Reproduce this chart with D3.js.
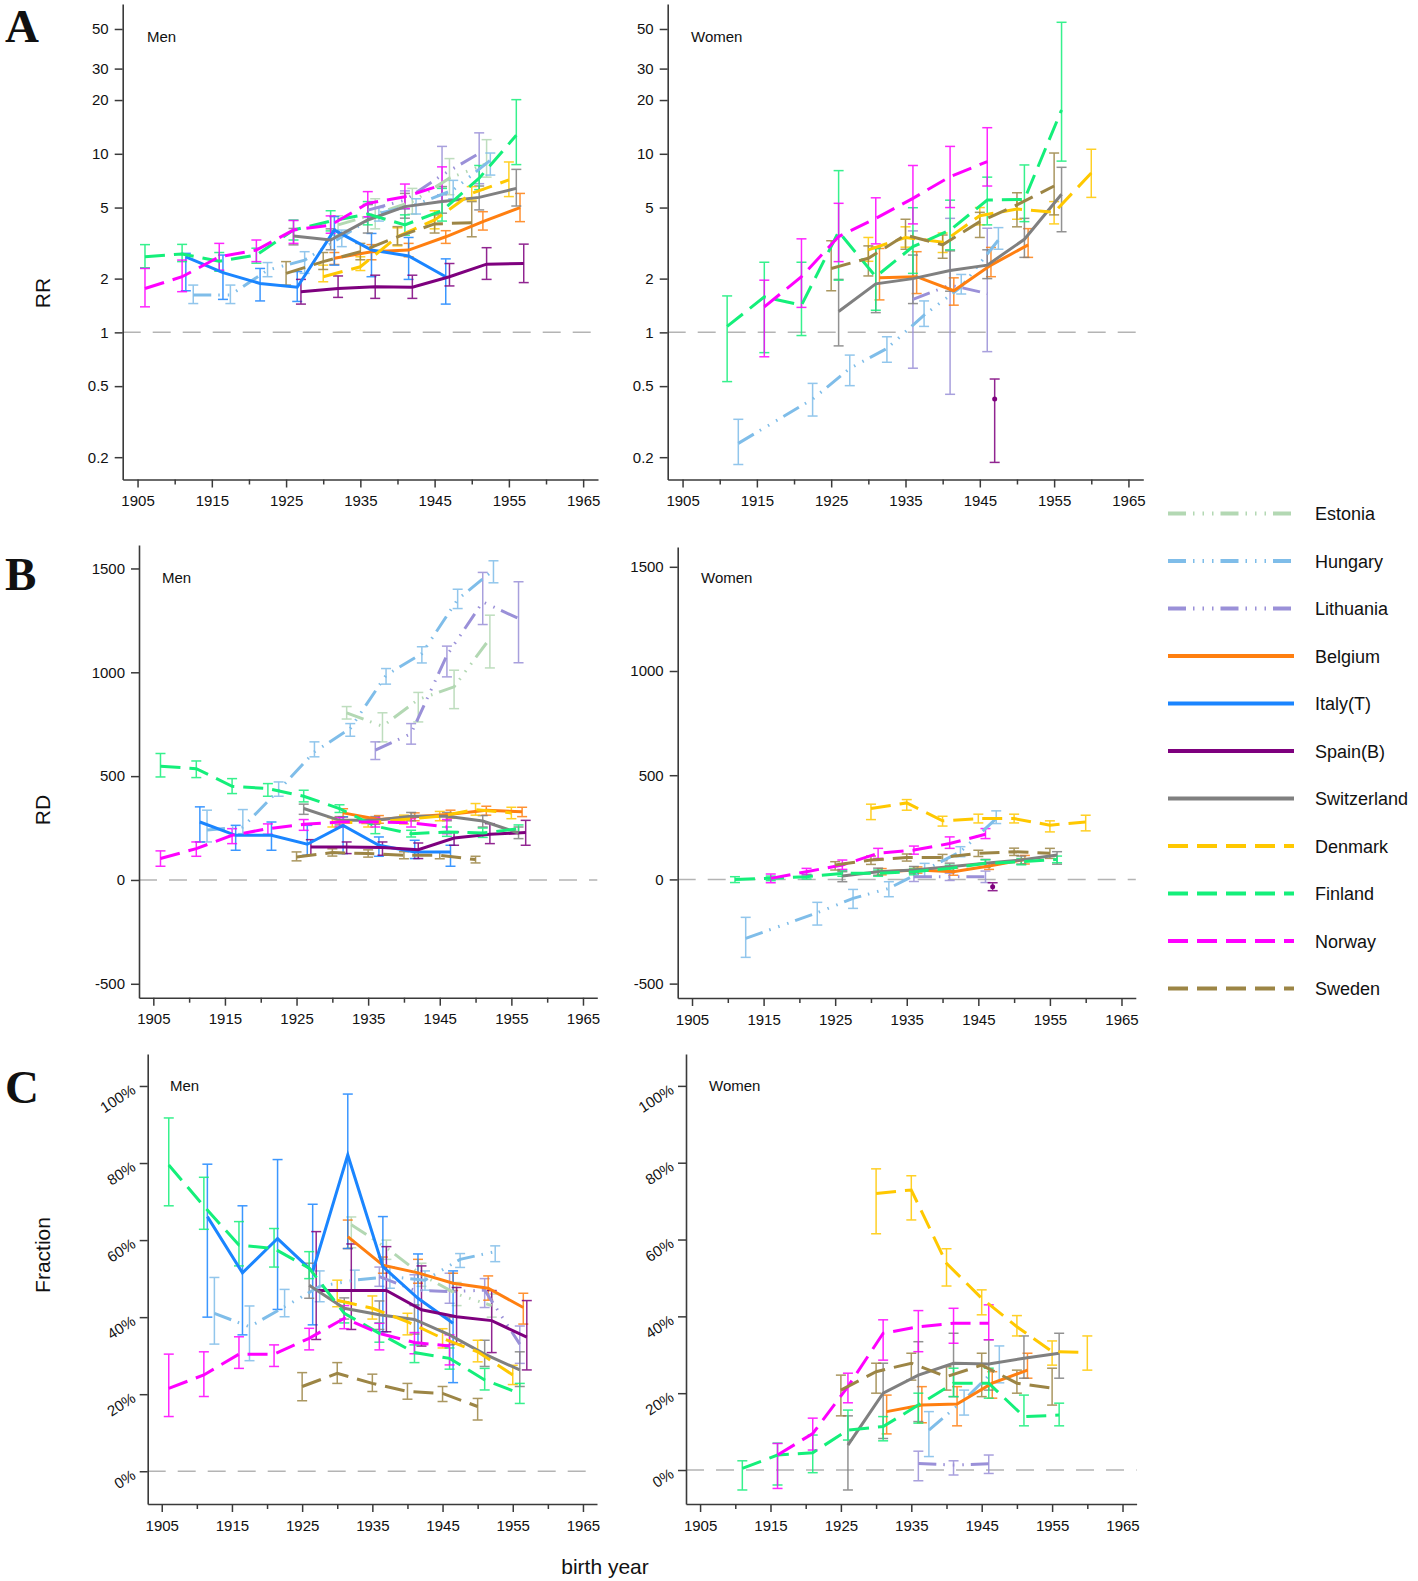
<!DOCTYPE html>
<html><head><meta charset="utf-8">
<script src="https://cdn.jsdelivr.net/npm/d3@7"></script>
<style>
body{margin:0;background:#fff}
text{font-family:"Liberation Sans",Arial,Helvetica,sans-serif;fill:#111}
</style>
</head><body>
<svg id="c" width="1418" height="1581"></svg>
<script>
// ---------------- data ----------------
const countries = ["Estonia","Hungary","Lithuania","Belgium","Italy(T)","Spain(B)","Switzerland","Denmark","Finland","Norway","Sweden"];
const keys      = ["Estonia","Hungary","Lithuania","Belgium","Italy","Spain","Switzerland","Denmark","Finland","Norway","Sweden"];
const colors    = ["#b3d8b3","#7fbde9","#9a90d8","#ff7f10","#1a85ff","#7e007e","#808080","#ffc800","#14ef7a","#ff00ff","#9c8545"];
const lineKinds = ["dashdot","dashdot","dashdot","solid","solid","solid","solid","dashed","dashed","dashed","dashed"];
const yearTicks = [1905,1910,1915,1920,1925,1930,1935,1940,1945,1950,1955,1960,1965];
const rrTicks = [0.2,0.5,1,2,5,10,20,30,50];
const rdTicks = [-500,0,500,1000,1500];
const fracTicks = [0,20,40,60,80,100];

// rows: [country, birth year, estimate, lower, upper]
const rrMen = [
["Finland",1906,2.65,2.3,3.1],["Finland",1911,2.75,2.49,3.11],["Finland",1916,2.5,2.2,2.8],["Finland",1921,2.71,2.44,2.96],["Finland",1926,3.74,3.29,4.26],["Finland",1931,4.2,3.7,4.8],["Finland",1936,4.6,4.0,5.4],["Finland",1941,4.0,3.5,4.55],["Finland",1946,4.8,4.2,6.4],["Finland",1951,7.3,6.3,8.6],["Finland",1956,12.7,8.7,20.1],
["Norway",1906,1.76,1.39,2.28],["Norway",1911,2.05,1.69,2.54],["Norway",1916,2.65,2.23,3.15],["Norway",1921,2.89,2.49,3.29],["Norway",1926,3.74,3.15,4.23],["Norway",1931,3.99,3.59,4.49],["Norway",1936,5.28,4.44,6.14],["Norway",1941,5.75,4.95,6.77],["Norway",1946,6.69,5.4,8.45],
["Italy",1911.5,2.65,1.71,2.77],["Italy",1916.5,2.16,1.53,2.71],["Italy",1921.5,1.88,1.5,2.28],["Italy",1926.5,1.79,1.49,2.19],["Italy",1931.5,3.74,2.38,4.45],["Italy",1936.5,2.89,2.05,3.58],["Italy",1941.5,2.68,1.98,3.4],["Italy",1946.5,2.05,1.44,2.58],
["Spain",1927,1.69,1.44,1.98],["Spain",1932,1.76,1.57,2.07],["Spain",1937,1.8,1.55,2.09],["Spain",1942,1.79,1.55,2.09],["Spain",1947,2.05,1.82,2.43],["Spain",1952,2.41,1.98,2.98],["Spain",1957,2.43,1.9,3.12],
["Switzerland",1926,3.46,3.09,3.82],["Switzerland",1931,3.29,2.9,3.8],["Switzerland",1936,4.26,3.6,5.2],["Switzerland",1941,5.06,4.36,6.0],["Switzerland",1946,5.4,4.65,6.55],["Switzerland",1951,5.7,4.85,6.6],["Switzerland",1956,6.4,5.1,8.18],
["Belgium",1931.5,2.6,2.4,2.8],["Belgium",1936.5,2.83,2.55,3.1],["Belgium",1941.5,2.89,2.65,3.15],["Belgium",1946.5,3.43,3.15,3.71],["Belgium",1951.5,4.17,3.74,4.74],["Belgium",1956.5,4.99,4.17,6.0],
["Denmark",1930,2.05,1.92,2.38],["Denmark",1935,2.33,2.22,2.65],["Denmark",1940,3.43,3.05,3.85],["Denmark",1945,4.26,3.8,4.8],["Denmark",1950,6.0,5.5,6.55],["Denmark",1955,7.14,5.76,9.0],
["Sweden",1925,2.14,1.84,2.49],["Sweden",1930,2.49,2.25,2.8],["Sweden",1935,2.83,2.55,3.15],["Sweden",1940,3.43,3.09,3.91],["Sweden",1945,4.05,3.6,4.55],["Sweden",1950,4.11,3.43,5.4],
["Hungary",1912.5,1.62,1.45,1.84],["Hungary",1917.5,1.62,1.45,1.84],["Hungary",1922.5,2.23,2.05,2.46],["Hungary",1927.5,2.54,2.14,2.83],["Hungary",1932.5,3.43,3.02,3.74],["Hungary",1937.5,4.64,4.2,5.0],["Hungary",1942.5,5.2,4.6,5.6],["Hungary",1947.5,6.27,5.6,7.1],["Hungary",1952.5,9.2,7.6,10.1],
["Estonia",1932,4.0,3.5,4.5],["Estonia",1937,4.6,3.8,5.6],["Estonia",1942,5.4,4.6,6.4],["Estonia",1947,7.3,5.9,9.4],["Estonia",1952,8.8,7.4,12.0],
["Lithuania",1936,4.84,4.4,5.2],["Lithuania",1941,5.5,4.9,6.2],["Lithuania",1946,7.6,5.9,11.0],["Lithuania",1951,10.05,6.8,13.1]
];
const rrWomen = [
["Finland",1911,1.08,0.53,1.6],["Finland",1916,1.58,0.77,2.47],["Finland",1921,1.42,0.96,2.47],["Finland",1926,3.66,1.96,8.05],["Finland",1931,2.05,1.33,2.95],["Finland",1936,3.02,2.14,4.99],["Finland",1941,3.74,2.9,5.5],["Finland",1946,5.51,4.0,7.4],["Finland",1951,5.55,4.17,8.66],["Finland",1956,17.6,9.1,54.5],
["Norway",1916,1.39,0.73,1.96],["Norway",1921,2.05,1.38,3.34],["Norway",1926,3.44,2.49,5.28],["Norway",1931,4.35,3.13,5.67],["Norway",1936,5.63,4.05,8.6],["Norway",1941,7.45,5.0,11.0],["Norway",1946,9.04,6.6,14.0],
["Sweden",1925,2.28,1.71,3.26],["Sweden",1930,2.6,2.07,3.05],["Sweden",1935,3.51,2.92,4.3],["Sweden",1940,3.09,2.6,3.51],["Sweden",1945,4.17,3.4,4.7],["Sweden",1950,5.17,3.9,6.05],["Sweden",1955,6.6,4.55,10.1],
["Denmark",1930,2.9,2.5,3.4],["Denmark",1935,3.4,3.0,3.9],["Denmark",1940,3.2,2.8,3.6],["Denmark",1945,4.5,4.0,5.0],["Denmark",1950,4.9,4.3,5.5],["Denmark",1955,4.7,4.05,5.4],["Denmark",1960,7.8,5.7,10.6],
["Switzerland",1926,1.31,0.84,1.98],["Switzerland",1931,1.87,1.29,3.0],["Switzerland",1936,2.0,1.45,2.71],["Switzerland",1941,2.22,1.7,2.86],["Switzerland",1946,2.38,2.0,2.9],["Switzerland",1951,3.32,2.63,4.35],["Switzerland",1956,5.93,3.66,8.4],
["Belgium",1931.5,2.02,1.52,2.95],["Belgium",1936.5,2.05,1.65,2.83],["Belgium",1941.5,1.71,1.42,2.02],["Belgium",1946.5,2.38,2.05,2.99],["Belgium",1951.5,3.09,2.63,3.81],
["Hungary",1912.5,0.239,0.182,0.326],["Hungary",1922.5,0.423,0.34,0.518],["Hungary",1927.5,0.628,0.503,0.746],["Hungary",1932.5,0.813,0.68,0.945],["Hungary",1937.5,1.25,1.08,1.5],["Hungary",1942.5,1.8,1.64,2.11],["Hungary",1947.5,3.29,2.92,3.86],
["Lithuania",1936,1.53,0.63,3.7],["Lithuania",1941,1.84,0.45,4.35],["Lithuania",1946,1.65,0.78,3.83],
["Spain",1947,0.423,0.187,0.548]
];
const rdMen = [
["Finland",1906,548,496,609],["Finland",1911,536,493,573],["Finland",1916,451,416,488],["Finland",1921,440,403,464],["Finland",1926,403,376,432],["Finland",1931,344,325,362],["Finland",1936,259,223,279],["Finland",1941,223,207,239],["Finland",1946,231,210,255],["Finland",1951,226,205,250],["Finland",1956,247,225,265],
["Norway",1906,103,66,140],["Norway",1911,151,114,183],["Norway",1916,215,175,247],["Norway",1921,247,220,270],["Norway",1926,268,239,291],["Norway",1931,279,255,300],["Norway",1936,279,255,300],["Norway",1941,275,255,295],["Norway",1946,255,223,291],
["Italy",1911.5,279,183,352],["Italy",1916.5,215,143,263],["Italy",1921.5,215,143,279],["Italy",1926.5,172,119,263],["Italy",1931.5,263,127,304],["Italy",1936.5,167,114,207],["Italy",1941.5,135,103,191],["Italy",1946.5,135,66,167],
["Spain",1927,159,119,194],["Spain",1932,159,127,183],["Spain",1937,156,119,183],["Spain",1942,146,103,178],["Spain",1947,202,167,231],["Spain",1952,220,175,271],["Spain",1957,228,167,287],
["Switzerland",1926,344,316,365],["Switzerland",1931,287,265,305],["Switzerland",1936,287,268,305],["Switzerland",1941,307,285,325],["Switzerland",1946,307,285,325],["Switzerland",1951,284,255,310],["Switzerland",1956,226,199,255],
["Belgium",1931.5,323,303,343],["Belgium",1936.5,291,273,310],["Belgium",1941.5,304,285,323],["Belgium",1946.5,316,298,336],["Belgium",1951.5,336,312,355],["Belgium",1956.5,328,305,350],
["Denmark",1930,279,255,300],["Denmark",1935,275,255,295],["Denmark",1940,291,270,312],["Denmark",1945,307,285,330],["Denmark",1950,339,312,368],["Denmark",1955,323,295,350],
["Sweden",1925,111,92,135],["Sweden",1930,132,115,150],["Sweden",1935,127,110,145],["Sweden",1940,119,102,136],["Sweden",1945,119,102,136],["Sweden",1950,98,82,114],
["Hungary",1912.5,240,183,336],["Hungary",1917.5,255,223,339],["Hungary",1922.5,432,403,472],["Hungary",1927.5,617,593,665],["Hungary",1932.5,729,692,753],["Hungary",1937.5,986,943,1018],["Hungary",1942.5,1090,1045,1123],["Hungary",1947.5,1351,1307,1400],["Hungary",1952.5,1492,1431,1537],
["Estonia",1932,805,775,835],["Estonia",1937,740,665,805],["Estonia",1942,869,761,903],["Estonia",1947,930,825,1010],["Estonia",1952,1163,1021,1275],
["Lithuania",1936,625,580,665],["Lithuania",1941,705,654,753],["Lithuania",1946,1082,978,1126],["Lithuania",1951,1339,1230,1481],["Lithuania",1956,1259,1046,1436]
];
const rdWomen = [
["Finland",1911,0,-15,13],["Finland",1916,5,-6,16],["Finland",1921,13,2,24],["Finland",1926,29,15,43],["Finland",1931,29,15,45],["Finland",1936,37,22,52],["Finland",1941,53,38,68],["Finland",1946,77,60,94],["Finland",1951,85,70,100],["Finland",1956,96,80,112],
["Norway",1916,5,-16,26],["Norway",1921,37,21,53],["Norway",1926,69,48,93],["Norway",1931,125,101,149],["Norway",1936,141,121,160],["Norway",1941,172,149,204],["Norway",1946,217,196,244],
["Sweden",1925,69,45,85],["Sweden",1930,93,72,112],["Sweden",1935,105,88,122],["Sweden",1940,105,90,120],["Sweden",1945,125,110,140],["Sweden",1950,133,115,150],["Sweden",1955,125,101,149],
["Denmark",1930,340,287,361],["Denmark",1935,367,332,383],["Denmark",1940,281,256,303],["Denmark",1945,292,271,313],["Denmark",1950,292,271,313],["Denmark",1955,260,228,281],["Denmark",1960,276,233,308],
["Switzerland",1926,16,-11,37],["Switzerland",1931,37,20,54],["Switzerland",1936,45,28,62],["Switzerland",1941,61,44,78],["Switzerland",1946,77,58,96],["Switzerland",1951,93,74,112],["Switzerland",1956,117,73,133],
["Belgium",1931.5,37,22,52],["Belgium",1936.5,45,30,60],["Belgium",1941.5,37,20,54],["Belgium",1946.5,64,48,80],["Belgium",1951.5,96,74,115],
["Hungary",1912.5,-283,-374,-182],["Hungary",1922.5,-160,-219,-110],["Hungary",1927.5,-91,-139,-48],["Hungary",1932.5,-43,-83,-11],["Hungary",1937.5,45,13,77],["Hungary",1942.5,133,109,157],["Hungary",1947.5,292,268,329],
["Lithuania",1936,13,-10,35],["Lithuania",1941,13,-5,30],["Lithuania",1946,13,-15,40],
["Spain",1947,-35,-54,-16]
];
const fracMen = [
["Finland",1906,79.5,68.9,91.7],["Finland",1911,68.8,62.8,76.3],["Finland",1916,58.7,53.3,64.8],["Finland",1921,57.8,53,63],["Finland",1926,52.7,50,57],["Finland",1931,41,38.5,44],["Finland",1936,35.8,33.5,38.5],["Finland",1941,30.8,28.2,32.8],["Finland",1946,29.3,26.5,32],["Finland",1951,23.7,21.1,26.7],["Finland",1956,20.2,17.6,22.8],
["Norway",1906,21.5,14.2,30.4],["Norway",1911,25,19.4,31],["Norway",1916,30.4,26.7,34.9],["Norway",1921,30.4,27.2,32.8],["Norway",1926,34.5,31.5,37.1],["Norway",1931,39.7,37,43],["Norway",1936,35.8,31.5,38.4],["Norway",1941,33.4,30.5,36],["Norway",1946,32.5,27.6,35.4],
["Italy",1911.5,66.1,40,79.7],["Italy",1916.5,51.5,35.4,68.9],["Italy",1921.5,60.4,42,80.9],["Italy",1926.5,51.8,38,69.3],["Italy",1931.5,82.1,57.8,97.9],["Italy",1936.5,53.1,36.2,66.1],["Italy",1941.5,44.9,33.2,56.4],["Italy",1946.5,38.4,23,52],
["Spain",1927,46.9,34.2,62.2],["Spain",1932,46.9,36.8,59],["Spain",1937,46.9,36.2,58.3],["Spain",1942,41.9,32.5,53.3],["Spain",1947,40.1,33,47.7],["Spain",1952,39.1,30.8,46.9],["Spain",1957,34.8,26.3,44.3],
["Switzerland",1926,48.3,44.9,54],["Switzerland",1931,42.3,39.5,45],["Switzerland",1936,40.6,36.8,44.2],["Switzerland",1941,39.4,35.6,43.2],["Switzerland",1946,35.4,32.8,40],["Switzerland",1951,30.4,27.2,34],["Switzerland",1956,26.3,22,31],
["Belgium",1931.5,60.9,57.8,65.2],["Belgium",1936.5,53.5,51.4,55.6],["Belgium",1941.5,51.5,48.8,55],["Belgium",1946.5,48.8,46.9,51.4],["Belgium",1951.5,47.5,44.4,50.7],["Belgium",1956.5,42.5,38.2,46.2],
["Denmark",1930,44.4,42.7,49.6],["Denmark",1935,42.3,39.5,45.5],["Denmark",1940,38.8,35.4,41],["Denmark",1945,34.5,32,37],["Denmark",1950,31,28.4,34],["Denmark",1955,25,22.5,27.5],
["Sweden",1925,22,18.3,25.6],["Sweden",1930,25.4,22.8,28.2],["Sweden",1935,22.8,20.7,25.2],["Sweden",1940,20.7,18.7,22.8],["Sweden",1945,20.2,18.1,22],["Sweden",1950,16.8,13.3,18.9],
["Hungary",1912.5,41,33,50.3],["Hungary",1917.5,37.5,28.7,42.9],["Hungary",1922.5,42.7,40.1,47.2],["Hungary",1927.5,48,44,52],["Hungary",1932.5,49.6,47,52.2],["Hungary",1937.5,50.5,47.5,53],["Hungary",1942.5,49.6,47,52],["Hungary",1947.5,55,52.9,56.5],["Hungary",1952.5,57,54.4,58.5],
["Estonia",1932,64,58,66],["Estonia",1937,58,55,60],["Estonia",1942,51,48,54],["Estonia",1947,46,43,49],["Estonia",1952,43,40,46],
["Lithuania",1936,50.5,48,53],["Lithuania",1941,47,43,51],["Lithuania",1946,46.6,43.6,51.4],["Lithuania",1951,47,42.5,50],["Lithuania",1956,33,28,37.7]
];
const fracWomen = [
["Finland",1911,0.4,-5.2,2.4],["Finland",1916,3.9,-3.9,7],["Finland",1921,4.5,-0.7,9.1],["Finland",1926,10.4,7.8,15.6],["Finland",1931,11.3,7.6,13.9],["Finland",1936,16.9,12.2,20],["Finland",1941,22.6,19.1,26.5],["Finland",1946,22.6,18.7,26.5],["Finland",1951,13.9,11.5,19.5],["Finland",1956,14.3,11.5,17.4],
["Norway",1916,3.9,-4.8,6.9],["Norway",1921,9.5,5.2,13.5],["Norway",1926,21.7,17.5,25.2],["Norway",1931,35.6,28.6,39.1],["Norway",1936,37.3,30.8,41.5],["Norway",1941,38.2,33,42.1],["Norway",1946,38.2,33.9,43],
["Sweden",1925,20.8,14.1,24.7],["Sweden",1930,25.6,20,27.8],["Sweden",1935,27.8,23.4,30.4],["Sweden",1940,24.3,20.8,26.9],["Sweden",1945,27.3,19.1,30.4],["Sweden",1950,22.6,20,26],["Sweden",1955,21.3,16.9,26.5],
["Denmark",1930,72,61.5,78.4],["Denmark",1935,72.9,65.1,76.6],["Denmark",1940,53.8,47.9,57.6],["Denmark",1945,44.7,40.4,46.9],["Denmark",1950,37.3,34.9,40.2],["Denmark",1955,30.8,27.3,33.6],["Denmark",1960,30.6,26,34.9],
["Switzerland",1926,6.5,-5.2,14.1],["Switzerland",1931,20,8.2,27.8],["Switzerland",1936,24.7,12.6,33.4],["Switzerland",1941,27.8,19.1,35.6],["Switzerland",1946,27.6,20.8,33.9],["Switzerland",1951,29.1,23.9,34.9],["Switzerland",1956,30.4,23.9,35.6],
["Belgium",1931.5,15.2,9.4,19.5],["Belgium",1936.5,16.9,12.3,21.7],["Belgium",1941.5,17.2,11.5,21.7],["Belgium",1946.5,22.6,18.7,25.6],["Belgium",1951.5,26,23.9,30.4],
["Hungary",1937.5,10.4,3.5,15.2],["Hungary",1942.5,18.2,14.3,20.8],["Hungary",1947.5,27.3,22.7,32.3],
["Lithuania",1936,1.7,-2.8,4.9],["Lithuania",1941,1.3,-1.3,2.4],["Lithuania",1946,1.6,-0.9,3.9]
];

// ---------------- drawing ----------------
const svg = d3.select("#c");
const dashes = {solid:null, dashed:"20,9", dashdot:"18,7,1.5,8,1.5,8,1.5,7"};
const colorOf = d3.scaleOrdinal().domain(keys).range(colors);
const kindOf = d3.scaleOrdinal().domain(keys).range(lineKinds);

const panels = [
 {data:rrMen, label:"Men", xr:[122.7,598], y:d3.scaleLog().domain([0.15,69]).range([479.5,4]), ticks:rrTicks, fmt:d=>d, ref:1, lab:[147,42]},
 {data:rrWomen, label:"Women", xr:[667.7,1143.3], y:d3.scaleLog().domain([0.15,69]).range([479.5,4]), ticks:rrTicks, fmt:d=>d, ref:1, lab:[691,42]},
 {data:rdMen, label:"Men", xr:[139,597.3], y:d3.scaleLinear().domain([-567,1613]).range([997.7,545]), ticks:rdTicks, fmt:d=>d, ref:0, lab:[162,583]},
 {data:rdWomen, label:"Women", xr:[677.7,1135.8], y:d3.scaleLinear().domain([-569,1595]).range([998,547]), ticks:rdTicks, fmt:d=>d, ref:0, lab:[701,583]},
 {data:fracMen, label:"Men", xr:[147.7,597], y:d3.scaleLinear().domain([-8.5,108.3]).range([1504,1054]), ticks:fracTicks, fmt:d=>d+"%", ref:0, lab:[170,1091], rot:true},
 {data:fracWomen, label:"Women", xr:[686,1136.6], y:d3.scaleLinear().domain([-8.85,108.3]).range([1504,1054]), ticks:fracTicks, fmt:d=>d+"%", ref:0, lab:[709,1091], rot:true}
];

panels.forEach(p=>{
  const x = d3.scaleLinear().domain([1903,1967]).range(p.xr);
  const y = p.y;
  const yb = y.range()[0];
  const g = svg.append("g");

  // reference line
  g.append("line").attr("x1",p.xr[0]).attr("x2",p.xr[1]).attr("y1",y(p.ref)).attr("y2",y(p.ref))
    .attr("stroke","#b4b4b4").attr("stroke-width",1.5).attr("stroke-dasharray","18,12");

  // x axis
  const xa = g.append("g").attr("transform",`translate(0,${yb})`)
    .call(d3.axisBottom(x).tickValues(yearTicks).tickSize(8).tickSizeOuter(0).tickPadding(8)
      .tickFormat(d=>((d-1905)%10===0)?d:""));
  xa.selectAll(".tick").filter(d=>(d-1905)%10!==0).select("line").attr("y2",5);
  // y axis
  const ya = g.append("g").attr("transform",`translate(${p.xr[0]},0)`)
    .call(d3.axisLeft(y).tickValues(p.ticks).tickFormat(p.fmt).tickSize(8).tickSizeOuter(0).tickPadding(6));
  [xa,ya].forEach(a=>{
    a.select(".domain").attr("stroke","#3a3a3a").attr("stroke-width",1.6);
    a.selectAll(".tick line").attr("stroke","#3a3a3a").attr("stroke-width",1.5);
    a.selectAll(".tick text").attr("font-size",15).attr("fill","#111")
      .attr("font-family",'"Liberation Sans",Arial,sans-serif');
  });
  if(p.rot){
    ya.selectAll(".tick text").attr("x",null).attr("dy",null)
      .attr("transform","translate(-11,6) rotate(-33)").attr("text-anchor","end");
  }

  // panel label
  g.append("text").attr("x",p.lab[0]).attr("y",p.lab[1]).attr("font-size",15).text(p.label);

  // series
  const groups = d3.groups(p.data, d=>d[0]);
  groups.sort((a,b)=>keys.indexOf(a[0])-keys.indexOf(b[0]));
  const sg = g.append("g");
  groups.forEach(([k,rows])=>{
    rows.sort((a,b)=>a[1]-b[1]);
    const col = colorOf(k);
    const eb = sg.append("g").attr("stroke",col).attr("stroke-width",1.5).attr("opacity",0.85);
    rows.forEach(r=>{
      const cx = x(r[1]);
      eb.append("line").attr("x1",cx).attr("x2",cx).attr("y1",y(r[3])).attr("y2",y(r[4]));
      eb.append("line").attr("x1",cx-5).attr("x2",cx+5).attr("y1",y(r[3])).attr("y2",y(r[3]));
      eb.append("line").attr("x1",cx-5).attr("x2",cx+5).attr("y1",y(r[4])).attr("y2",y(r[4]));
    });
  });
  groups.forEach(([k,rows])=>{
    const col = colorOf(k);
    if(rows.length===1){
      sg.append("circle").attr("cx",x(rows[0][1])).attr("cy",y(rows[0][2])).attr("r",2.5).attr("fill",col);
      return;
    }
    sg.append("path").datum(rows)
      .attr("d",d3.line().x(r=>x(r[1])).y(r=>y(r[2])))
      .attr("fill","none").attr("stroke",col).attr("stroke-width",3)
      .attr("stroke-dasharray",dashes[kindOf(k)]);
  });
});

// panel letters
[["A",41.5],["B",590],["C",1103]].forEach(([t,yy])=>{
  svg.append("text").attr("x",5).attr("y",yy).attr("font-size",47).attr("font-weight","bold")
    .style("font-family",'"Liberation Serif","Times New Roman",serif').text(t);
});
// axis titles
[["RR",293],["RD",810],["Fraction",1255]].forEach(([t,yy])=>{
  svg.append("text").attr("transform",`translate(50,${yy}) rotate(-90)`).attr("text-anchor","middle")
    .attr("font-size",21).text(t);
});
svg.append("text").attr("x",605).attr("y",1574).attr("text-anchor","middle").attr("font-size",21).text("birth year");

// legend
const lg = svg.append("g");
countries.forEach((c,i)=>{
  const yy = 513.5 + i*47.5;
  lg.append("line").attr("x1",1168).attr("x2",1294).attr("y1",yy).attr("y2",yy)
    .attr("stroke",colors[i]).attr("stroke-width",4).attr("stroke-dasharray",dashes[lineKinds[i]]);
  lg.append("text").attr("x",1315).attr("y",yy+6.5).attr("font-size",18).text(c);
});
</script>
</body></html>
